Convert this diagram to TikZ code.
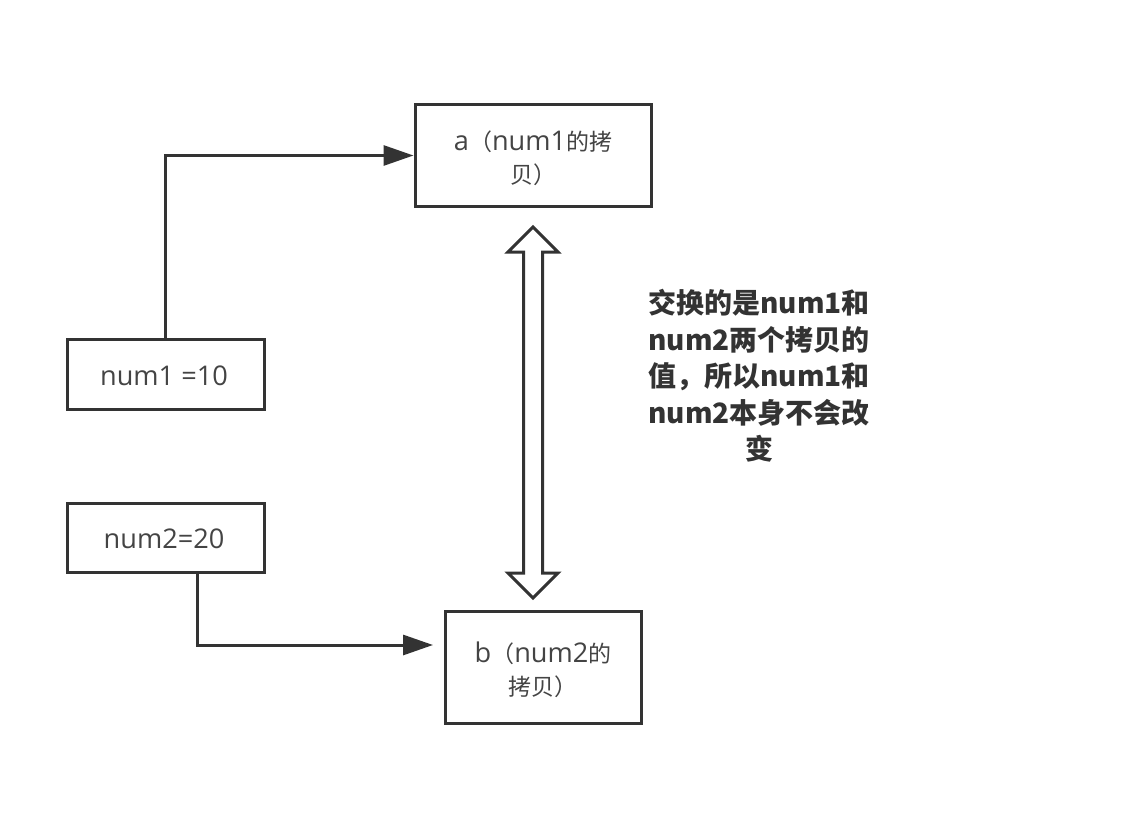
\documentclass[tikz,border=0pt]{standalone}
\usepackage{fontspec}
\setmainfont{Noto Sans CJK SC}
\newfontfamily\latnfont[Scale=1.18]{Open Sans}
\newcommand\ltn[1]{{\latnfont #1}}
\usetikzlibrary{arrows.meta,calc}
\definecolor{ink}{HTML}{333333}
\definecolor{txt}{HTML}{444444}
\tikzset{
  box/.style={draw=ink, line width=3pt, rectangle, inner sep=0pt, fill=white},
  lbl/.style={text=txt, align=center, font=\fontsize{23pt}{33pt}\selectfont, inner sep=0pt},
  note/.style={text=ink, align=center, font=\fontsize{28pt}{36.5pt}\selectfont\bfseries, inner sep=0pt},
  arr/.style={draw=ink, line width=3pt, -{Triangle[length=30pt,width=20pt]}},
  dbl/.style={draw=ink, line width=3pt, fill=white, line join=miter}
}
\begin{document}
\begin{tikzpicture}[x=1pt,y=-1pt]
\useasboundingbox[fill=white] (0,0) rectangle (1122,824);
% boxes
\node[box, minimum width=236pt, minimum height=101pt] (a) at (533,155.5) {};
\node[box, minimum width=197pt, minimum height=70pt] (n1) at (165.5,374.5) {};
\node[box, minimum width=197pt, minimum height=69pt] (n2) at (165.5,537.5) {};
\node[box, minimum width=196pt, minimum height=112pt] (b) at (543,667) {};
% labels
\node[lbl] (ta) at (533,158.5) {\ltn{a}（\ltn{num1}的拷\\贝）};
\node[lbl] (t1) at (164,376) {\ltn{num1 =10}};
\node[lbl] (t2) at (164,539) {\ltn{num2=20}};
\node[lbl] (tb) at (543,670) {\ltn{b}（\ltn{num2}的\\拷贝）};
\node[note] (nt) at (759,376) {交换的是num1和\\num2两个拷贝的\\值，所以num1和\\num2本身不会改\\变};
% connectors
\draw[arr] (n1.north) |- (a.west);
\coordinate (n2out) at (197,572);
\coordinate (bin) at (433,645);
\draw[arr] (n2out) |- (bin);
% double arrow
\coordinate (dt) at (533,227);
\coordinate (db) at (533,598);
\draw[dbl] (dt) -- ++(25,25) -- ++(-15.5,0) -- ($(db)+(9.5,-25)$) -- ++(15.5,0) -- (db)
  -- ++(-25,-25) -- ++(15.5,0) -- ($(dt)+(-9.5,25)$) -- ++(-15.5,0) -- cycle;
\end{tikzpicture}
\end{document}
